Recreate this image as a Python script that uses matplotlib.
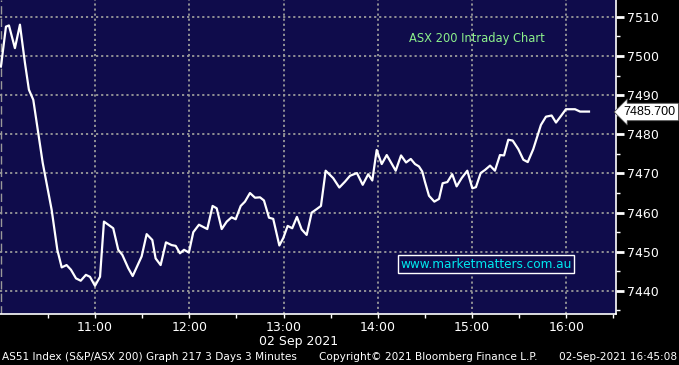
import numpy as np
import matplotlib
matplotlib.use('Agg')
import matplotlib.pyplot as plt
from matplotlib.ticker import FixedLocator

# minutes after 10:00 and ASX 200 level
minutes = [0, 3.2, 5.1, 8.9, 12.1, 15.3, 17.8, 20.6, 26.6, 32.3, 35.9, 38.7, 41.8, 44.6,
           47.8, 50.8, 54.1, 56.7, 59.9, 63.1, 65.6, 71.5, 74.7, 77.3, 81.1, 83.9, 89.6,
           92.8, 96.4, 98.5, 101.7, 105.1, 108.7, 111.3, 114.0, 116.6, 119.7, 122.5, 126.1,
           131.4, 134.8, 137.4, 140.6, 143.8, 146.9, 149.5, 152.7, 155.4, 158.6, 161.8,
           165.0, 167.5, 170.7, 173.4, 177.3, 179.8, 182.6, 185.5, 188.5, 191.5, 194.7,
           197.9, 201.1, 203.8, 206.8, 211.6, 215.5, 219.1, 222.3, 226.7, 230.4, 233.9,
           236.5, 239.3, 242.5, 245.7, 251.4, 254.8, 258.0, 261.0, 263.7, 266.2, 268.3,
           270.0, 272.6, 276.0, 279.0, 281.3, 284.3, 287.4, 290.2, 293.4, 297.0, 300.2,
           302.5, 305.5, 308.3, 311.5, 314.6, 317.8, 320.4, 323.1, 325.9, 329.5, 332.7,
           335.5, 339.0, 343.9, 347.1, 350.7, 353.5, 356.7, 359.8, 365.6, 368.8, 374.5]
level = [7497.3, 7507.5, 7507.8, 7502.0, 7508.0, 7498.2, 7491.4, 7488.8, 7472.7, 7460.7,
         7450.5, 7446.0, 7446.6, 7445.4, 7443.2, 7442.6, 7444.1, 7443.6, 7441.3, 7443.6,
         7457.7, 7456.0, 7450.5, 7449.2, 7445.8, 7443.8, 7448.8, 7454.5, 7453.0, 7448.3,
         7446.6, 7452.4, 7451.7, 7451.5, 7449.6, 7450.5, 7449.8, 7455.0, 7456.9, 7455.8,
         7461.7, 7461.1, 7455.8, 7457.7, 7458.8, 7458.3, 7461.7, 7462.8, 7465.0, 7463.8,
         7463.9, 7463.1, 7458.7, 7458.4, 7451.6, 7453.5, 7456.6, 7456.0, 7458.9, 7455.7,
         7454.3, 7460.0, 7460.9, 7461.7, 7470.7, 7468.8, 7466.4, 7467.9, 7469.4, 7470.1,
         7467.1, 7469.8, 7468.2, 7476.0, 7472.4, 7474.7, 7470.7, 7474.6, 7472.8, 7473.7,
         7472.4, 7471.8, 7470.5, 7467.9, 7464.3, 7462.8, 7463.5, 7467.5, 7467.8, 7469.8,
         7466.7, 7468.8, 7470.7, 7466.2, 7466.5, 7470.1, 7470.9, 7472.0, 7470.7, 7474.7,
         7474.6, 7478.6, 7478.4, 7476.2, 7473.5, 7472.9, 7476.2, 7482.4, 7484.5, 7484.8,
         7483.0, 7484.7, 7486.4, 7486.4, 7485.8, 7485.8]
last_price = 7485.700

hour_ticks = [60, 120, 180, 240, 300, 360]
hour_labels = ['11:00', '12:00', '13:00', '14:00', '15:00', '16:00']
y_ticks = [7440, 7450, 7460, 7470, 7480, 7490, 7500, 7510]

bg = '#0f0c4b'
grid_col = '#9a9a9a'

fig = plt.figure(figsize=(6.79, 3.65), dpi=100, facecolor='black')
ax = fig.add_axes([0, (365 - 314)/365, 616/679, 314/365])
ax.set_facecolor(bg)

# grid
for t in hour_ticks:
    ax.axvline(t, color=grid_col, lw=1.3, ls=(0, (1.2, 1.6)), zorder=1)
for v in y_ticks:
    ax.axhline(v, color=grid_col, lw=1.3, ls=(0, (1.2, 1.6)), zorder=1)
ax.axvline(0, color=grid_col, lw=1.0, ls=(0, (6, 3)), zorder=1)

ax.plot(minutes, level, color='white', lw=1.6, zorder=3)

ax.set_xlim(-0.6, 391.7)
ax.set_ylim(7434.1, 7514.3)

# axes / ticks
for s in ['left', 'top']:
    ax.spines[s].set_visible(False)
for s in ['right', 'bottom']:
    ax.spines[s].set_color('white')
    ax.spines[s].set_linewidth(1.2)

ax.yaxis.tick_right()
ax.set_yticks(y_ticks)
ax.yaxis.set_minor_locator(FixedLocator(np.arange(7435, 7520, 10)))
ax.set_xticks(hour_ticks)
ax.set_xticklabels(hour_labels)
ax.xaxis.set_minor_locator(FixedLocator([30, 90, 150, 210, 270, 330, 390]))
ax.tick_params(axis='y', which='major', direction='out', length=6, width=2,
               colors='white', labelsize=9, pad=2)
ax.tick_params(axis='y', which='minor', direction='out', length=3, width=1, colors='white')
ax.tick_params(axis='x', which='major', direction='out', length=3, width=1,
               colors='white', labelsize=9, pad=2)
ax.tick_params(axis='x', which='minor', direction='out', length=3, width=1, colors='white')

# last price callout
ax.annotate(f'{last_price:.3f}', xy=(1.0, last_price), xycoords=('axes fraction', 'data'),
            xytext=(5.5, 0), textcoords='offset points', va='center', ha='left',
            fontsize=9, color='black', family='Liberation Sans',
            bbox=dict(boxstyle='larrow,pad=0.22', fc='white', ec='#444444', lw=0.6))

ax.text(303, 7504.5, 'ASX 200 Intraday Chart', color='#8cf08c', fontsize=8.3,
        ha='center', va='center')
ax.text(309, 7446.8, 'www.marketmatters.com.au', color='#00e8ee', fontsize=8.7,
        ha='center', va='center',
        bbox=dict(boxstyle='square,pad=0.2', fc=bg, ec='white', lw=1))

fig.text(299/679, 1 - 341/365, '02 Sep 2021', color='white', fontsize=9,
         ha='center', va='center')
fig.text(2/679, 1 - 357/365, 'AS51 Index (S&P/ASX 200) Graph 217 3 Days 3 Minutes',
         color='white', fontsize=7.6, ha='left', va='center')
fig.text(428/679, 1 - 357/365, 'Copyright\u00a9 2021 Bloomberg Finance L.P.',
         color='white', fontsize=7.6, ha='center', va='center')
fig.text(677/679, 1 - 357/365, '02-Sep-2021 16:45:08', color='white', fontsize=7.6,
         ha='right', va='center')

plt.savefig('out.png', dpi=100, facecolor='black')
